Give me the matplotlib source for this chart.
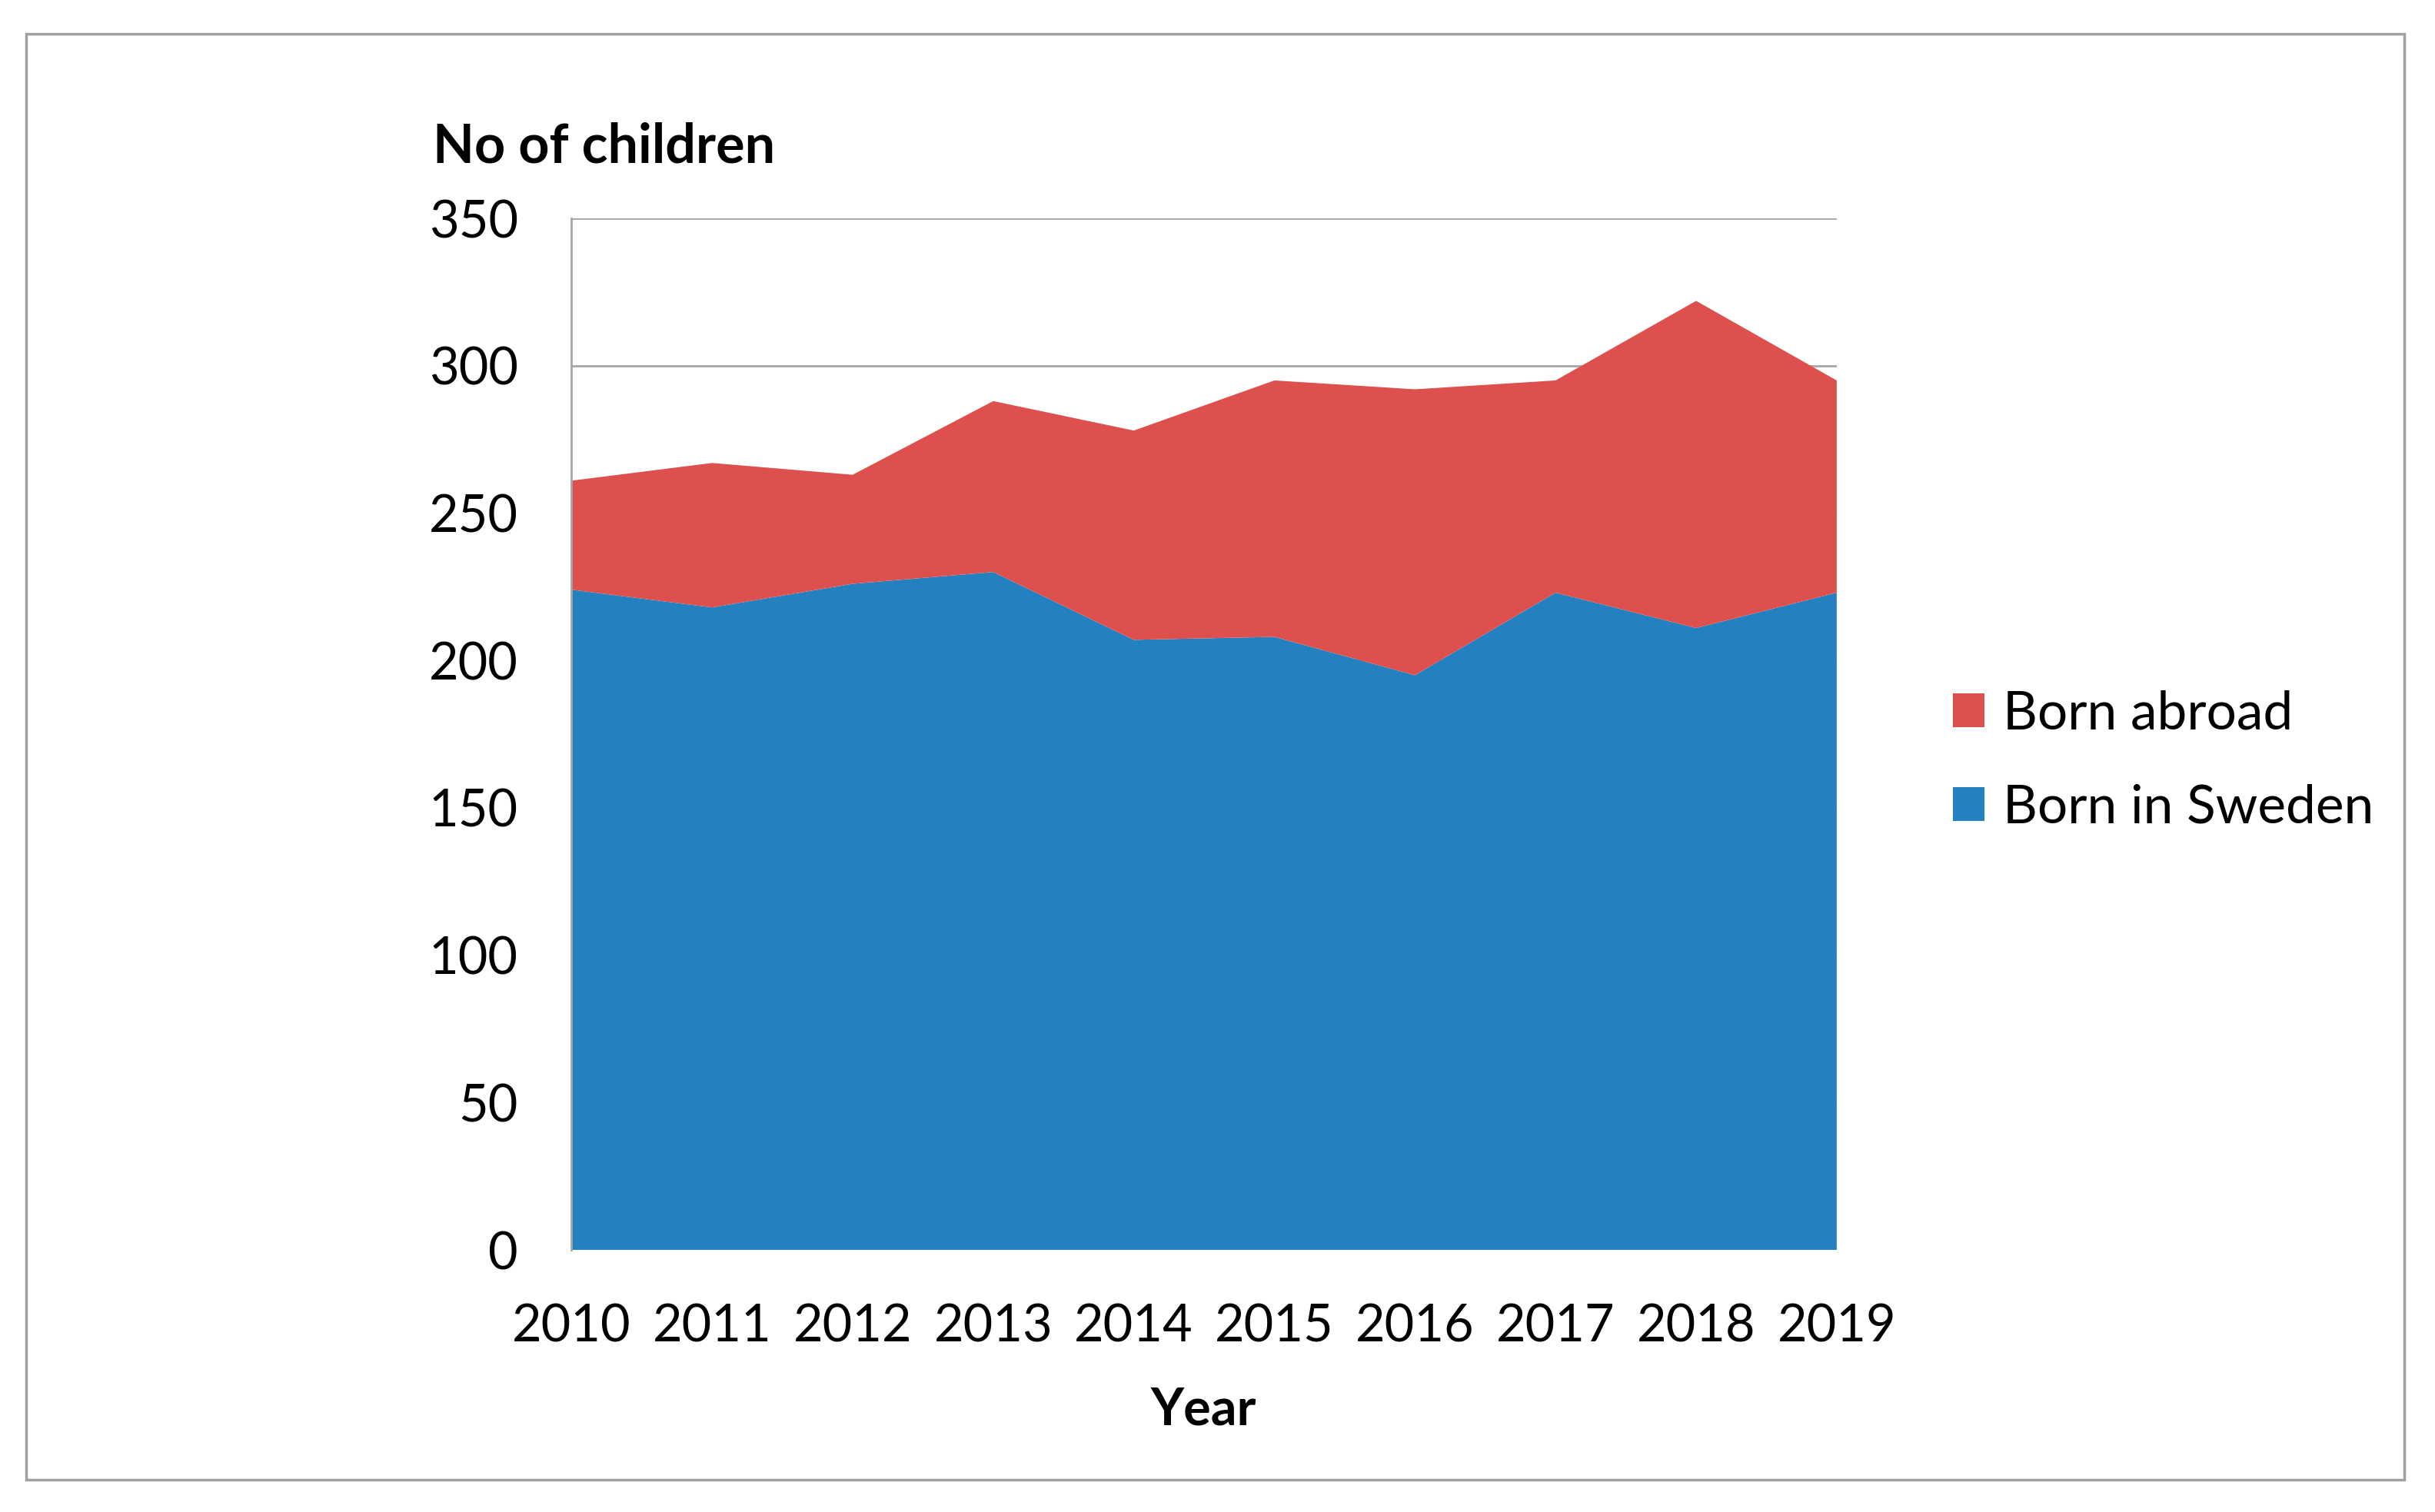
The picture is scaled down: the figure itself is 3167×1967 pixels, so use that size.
import numpy as np
import matplotlib.pyplot as plt
from matplotlib.patches import Patch, Rectangle

years = [2010, 2011, 2012, 2013, 2014, 2015, 2016, 2017, 2018, 2019]
born_sweden = [224, 218, 226, 230, 207, 208, 195, 223, 211, 223]
born_abroad = [37, 49, 37, 58, 71, 87, 97, 72, 111, 72]

col_sweden = '#2481C0'
col_abroad = '#DD504D'

plt.rcParams['font.family'] = ['Lato', 'DejaVu Sans']

fig = plt.figure(figsize=(31.67, 19.67), dpi=100)
ax = fig.add_axes([0.2347, 0.1733, 0.7543 - 0.2347, 0.8556 - 0.1733])

ax.stackplot(years, born_sweden, born_abroad, colors=[col_sweden, col_abroad], linewidth=0)

ax.set_xlim(2010, 2019)
ax.set_ylim(0, 350)
ax.set_yticks(np.arange(0, 351, 50))
ax.set_xticks(years)
ax.grid(axis='y', color='#A6A6A6', linewidth=2)
ax.set_axisbelow(True)
for s in ['top', 'right', 'bottom']:
    ax.spines[s].set_visible(False)
ax.spines['left'].set_color('#A6A6A6')
ax.spines['left'].set_linewidth(2)
ax.tick_params(axis='both', length=0, labelsize=48)
ax.tick_params(axis='y', pad=50)
ax.tick_params(axis='x', pad=50)

fig.text(563 / 3167, 1 - 212 / 1967, 'No of children', fontsize=50.5, fontweight='bold', ha='left', va='baseline')
fig.text(1565 / 3167, 1 - 1834 / 1967, 'Year', fontsize=48, fontweight='bold', ha='center', va='center')

handles = [Patch(facecolor=col_abroad), Patch(facecolor=col_sweden)]
fig.legend(handles, ['Born abroad', 'Born in Sweden'], loc='center left',
           bbox_to_anchor=(2477 / 3167, 1 - 990 / 1967), frameon=False, fontsize=50,
           handlelength=0.6, handleheight=0.6, handletextpad=0.35, labelspacing=0.85)

fig.patches.append(Rectangle((34 / 3167, 1 - 1925 / 1967), (3127 - 34) / 3167, (1925 - 44) / 1967,
                             transform=fig.transFigure, fill=False, edgecolor='#A0A0A0', linewidth=2.5))

fig.savefig('out.png', dpi=100)
